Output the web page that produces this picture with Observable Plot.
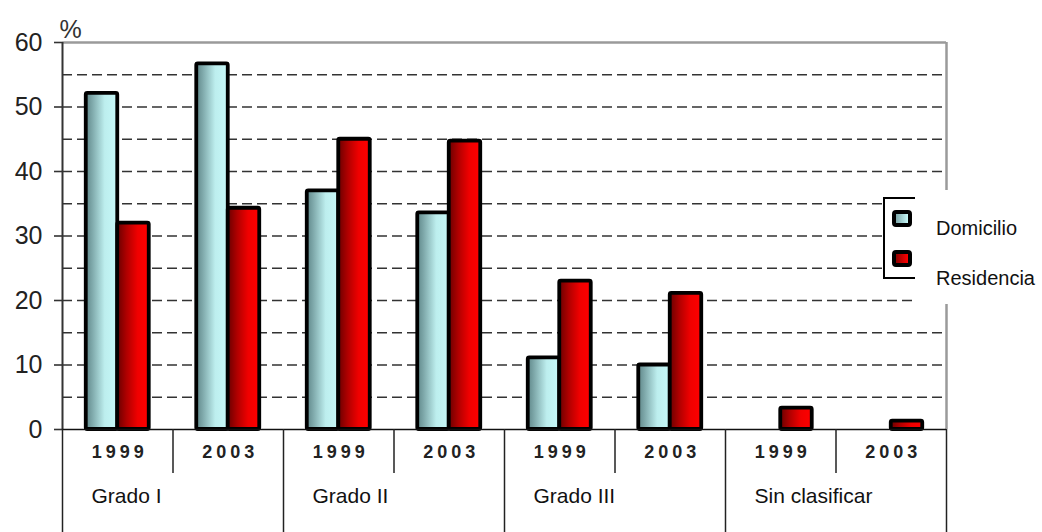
<!DOCTYPE html>
<html><head><meta charset="utf-8">
<script src="https://cdn.jsdelivr.net/npm/d3@7"></script>
<script src="https://cdn.jsdelivr.net/npm/@observablehq/plot@0.6"></script>
<style>
body{margin:0;background:#fff;font-family:"Liberation Sans",Arial,sans-serif;}
#wrap{position:relative;width:1042px;height:532px;overflow:hidden;background:#fff;}
#wrap svg{position:absolute;left:0;top:0;}
.lg{position:absolute;}
.lgt{position:absolute;font-size:20px;line-height:20px;color:#111;white-space:nowrap;}
.sw{position:absolute;width:12px;height:9px;border:4px solid #000;border-radius:4px;}
</style></head><body><div id="wrap"></div>
<script>
// ---- data ----
const grades = ["Grado I", "Grado II", "Grado III", "Sin clasificar"];
const years = ["1999", "2003"];
const series = ["Domicilio", "Residencia"];
const domicilio = [52.1, 56.7, 37.0, 33.6, 11.1, 10.0, 0, 0];
const residencia = [32.0, 34.3, 45.0, 44.7, 23.0, 21.1, 3.3, 1.3];
const yTicks = [0, 10, 20, 30, 40, 50, 60];
const gridValues = [5, 10, 15, 20, 25, 30, 35, 40, 45, 50, 55];

// ---- build table ----
const cells = grades.flatMap((g, gi) => years.map((y, yi) => ({grade: g, year: y, i: gi * 2 + yi})));
const domRows = cells.map((c, k) => ({...c, series: series[0], value: domicilio[k]}));
const resRows = cells.map((c, k) => ({...c, series: series[1], value: residencia[k]}));
const nCells = cells.length;
const BAR = 0.285; // bar width as a fraction of a year slot
const minorBounds = d3.range(1, nCells, 2);
const majorBounds = d3.range(0, nCells + 1, 2);

const plot = Plot.plot({
  width: 1042,
  height: 532,
  marginLeft: 62,
  marginRight: 96,
  marginTop: 42,
  marginBottom: 103,
  style: {fontFamily: "'Liberation Sans', Arial, sans-serif", fontSize: "20px", color: "#222", background: "transparent", overflow: "visible"},
  x: {type: "linear", domain: [0, nCells], axis: null},
  y: {domain: [0, 60], axis: null},
  marks: [
    Plot.ruleY(gridValues, {stroke: "#333", strokeWidth: 1.6, strokeDasharray: "10,5"}),
    Plot.ruleY([60], {stroke: "#9a9a9a", strokeWidth: 2.5}),
    Plot.ruleX([nCells], {y1: 0, y2: 60, stroke: "#9a9a9a", strokeWidth: 2.5}),
    Plot.rectY(domRows.filter(d => d.value > 0), {
      x1: d => d.i + 0.5 - BAR, x2: d => d.i + 0.5, y1: 0, y2: "value",
      fill: "url(#gDom)", stroke: "#000", strokeWidth: 3.8, strokeLinejoin: "round", rx: 1.5
    }),
    Plot.rectY(resRows.filter(d => d.value > 0), {
      x1: d => d.i + 0.5, x2: d => d.i + 0.5 + BAR, y1: 0, y2: "value",
      fill: "url(#gRes)", stroke: "#000", strokeWidth: 3.8, strokeLinejoin: "round", rx: 1.5
    }),
    Plot.ruleX([0], {stroke: "#333", strokeWidth: 2}),
    Plot.ruleY([0], {stroke: "#111", strokeWidth: 1.6}),
    Plot.axisY(yTicks, {tickSize: 8, tickPadding: 12, fontSize: 26, label: null, stroke: "#333", strokeWidth: 1.6}),
    Plot.axisX(minorBounds, {tickSize: 44, tickFormat: () => "", label: null, stroke: "#222", strokeWidth: 1.5}),
    Plot.axisX(majorBounds, {tickSize: 103, tickFormat: () => "", label: null, stroke: "#222", strokeWidth: 1.5}),
    Plot.text(cells, {x: d => d.i + 0.5, text: "year", frameAnchor: "bottom", dy: 28, dx: 2,
      fontWeight: "bold", fontSize: 18, fill: "#222"}),
    Plot.text(grades, {x: (d, i) => i * 2, text: d => d, frameAnchor: "bottom", dy: 73, dx: 29,
      textAnchor: "start", fontSize: 21, fill: "#111"}),
    Plot.text(["%"], {frameAnchor: "top-left", dx: -3, dy: -22, text: d => d, fontSize: 25, fill: "#333"})
  ]
});

// year labels: wide letter spacing as in the reference
d3.select(plot).selectAll("text")
  .filter(function() { return years.includes(this.textContent); })
  .style("letter-spacing", "4px")
  .style("font-weight", "900");

// y tick labels a little larger, as in the reference
d3.select(plot).selectAll("text")
  .filter(function() { return yTicks.map(String).includes(this.textContent) && !years.includes(this.textContent); })
  .style("font-size", "25px");

// gradients
const defs = d3.select(plot).insert("defs", ":first-child");
function grad(id, stops) {
  const g = defs.append("linearGradient").attr("id", id).attr("x1", 0).attr("x2", 1).attr("y1", 0).attr("y2", 0);
  stops.forEach(([o, c]) => g.append("stop").attr("offset", o).attr("stop-color", c));
}
grad("gDom", [[0, "#5f8789"], [0.2, "#7ea8aa"], [0.6, "#bdeeee"], [1, "#c6f8f8"]]);
grad("gRes", [[0, "#6a0000"], [0.3, "#b00000"], [0.65, "#f00000"], [1, "#ff0000"]]);

const wrap = document.getElementById("wrap");
wrap.appendChild(plot);

// legend overlay
const legend = document.createElement("div");
legend.innerHTML = `
  <div class="lg" style="left:883px;top:198px;width:159px;height:80px;background:#fff;"></div>
  <div class="lg" style="left:915px;top:190px;width:127px;height:114px;background:#fff;"></div>
  <div class="lg" style="left:883px;top:197px;width:1.5px;height:81px;background:#000;"></div>
  <div class="lg" style="left:883px;top:197px;width:32px;height:1.5px;background:#000;"></div>
  <div class="lg" style="left:883px;top:277px;width:32px;height:1.5px;background:#000;"></div>
  <div class="sw" style="left:892px;top:210px;background:linear-gradient(90deg,#7ea8aa,#c6f8f8);"></div>
  <div class="sw" style="left:892px;top:250px;background:linear-gradient(90deg,#900000,#ff0000);"></div>
  <div class="lgt" style="left:936px;top:218px;">${series[0]}</div>
  <div class="lgt" style="left:936px;top:268px;">${series[1]}</div>`;
wrap.appendChild(legend);
</script>
</body></html>
